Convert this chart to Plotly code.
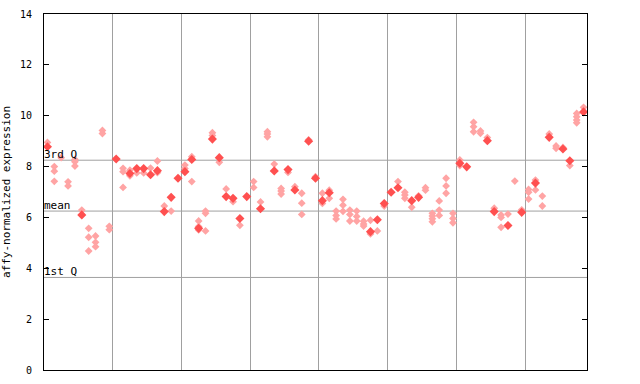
import plotly.graph_objects as go

# replicate (light, checkered) values per sample column
rep_values = [
    [8.95], [8.00, 7.82, 7.42], [8.35], [7.40, 7.24], [8.28, 8.19, 8.02],
    [6.29], [5.57, 5.22, 4.68], [5.27, 5.02, 4.85], [9.42, 9.30], [5.65, 5.52],
    [], [7.93, 7.80, 7.18], [7.86, 7.64], [7.75], [7.75],
    [7.94], [8.22, 7.76], [6.45], [6.25], [],
    [8.06, 7.92], [8.39, 7.41], [5.86, 5.64, 5.51], [6.25, 6.16, 5.47], [9.33, 9.22],
    [8.17], [7.12], [6.62], [5.69], [],
    [7.41, 7.18], [6.61], [9.37, 9.28, 9.17], [8.10], [7.14, 7.04, 6.92],
    [7.77], [7.21], [6.95, 6.56, 6.12], [9.05], [7.60],
    [6.95, 6.55], [7.07, 6.75], [6.25, 6.08, 5.94], [6.71, 6.48, 6.24], [6.29, 6.12, 5.86],
    [6.25, 6.04, 5.86], [5.85, 5.74, 5.66], [5.89, 5.35], [5.47], [6.45],
    [], [7.41], [6.99, 6.88, 6.75], [6.40], [6.85],
    [7.17, 7.07], [6.16, 6.06, 5.95, 5.83], [6.65, 6.29, 6.08], [7.54, 7.24, 6.95], [6.16, 5.96, 5.79],
    [8.26, 8.04], [], [9.74, 9.57, 9.37], [9.40, 9.31], [9.14],
    [6.36], [6.10, 6.00, 5.61], [6.13], [7.43], [6.30],
    [7.10, 6.99, 6.72], [7.47, 7.08], [6.84, 6.45], [9.28], [8.81, 8.72],
    [8.75], [8.04], [10.09, 9.96, 9.83, 9.72], [10.33],
]

# highlighted (solid) value per sample column, None where absent
solid_values = [
    8.78, None, None, None, None, 6.10, None, None, None, None,
    8.30, None, 7.73, 7.92, 7.92, 7.68, 7.84, 6.23, 6.79, 7.54,
    7.80, 8.28, 5.57, None, 9.08, 8.35, 6.82, 6.75, 5.96, 6.82,
    None, 6.34, None, 7.83, None, 7.88, 7.08, None, 9.00, 7.54,
    6.66, 6.97, None, None, None, None, None, 5.44, 5.91, 6.55,
    6.99, 7.17, None, 6.66, 6.79, None, None, None, None, None,
    8.13, 7.99, None, None, 9.02, 6.23, None, 5.68, None, 6.20,
    None, 7.35, None, 9.15, None, 8.69, 8.23, None, 10.15,
]

group_sizes = [10, 10, 10, 10, 10, 10, 10, 9]
stat_lines = {"3rd Q": 8.25, "mean": 6.25, "1st Q": 3.64}
y_ticks = [0, 2, 4, 6, 8, 10, 12, 14]

rx, ry = [], []
for i, vals in enumerate(rep_values):
    for v in vals:
        rx.append(i)
        ry.append(v)
sx = [i for i, v in enumerate(solid_values) if v is not None]
sy = [v for v in solid_values if v is not None]

boundaries = []
acc = 0
for g in group_sizes[:-1]:
    acc += g
    boundaries.append(acc - 0.5)
n = sum(group_sizes)

fig = go.Figure()
fig.add_trace(go.Scatter(x=rx, y=ry, mode="markers",
                         marker=dict(symbol="diamond", size=6, color="#ffa4a4",
                                     line=dict(width=0)),
                         showlegend=False, hoverinfo="y"))
fig.add_trace(go.Scatter(x=sx, y=sy, mode="markers",
                         marker=dict(symbol="diamond", size=7, color="#ff5050",
                                     line=dict(width=0)),
                         showlegend=False, hoverinfo="y"))

for label, val in stat_lines.items():
    fig.add_shape(type="line", xref="paper", x0=0, x1=1, yref="y", y0=val, y1=val,
                  line=dict(color="#a0a0a0", width=1), layer="below")
    fig.add_annotation(xref="paper", x=0, yref="y", y=val, text=label,
                       showarrow=False, xanchor="left", yanchor="bottom",
                       xshift=-2, yshift=-3,
                       font=dict(family="DejaVu Sans Mono", size=11, color="black"))

fig.update_layout(
    width=640, height=384,
    margin=dict(l=44, r=53, t=14, b=14, autoexpand=False),
    paper_bgcolor="white", plot_bgcolor="white",
    xaxis=dict(range=[-0.5, n - 0.5], tickvals=boundaries, showticklabels=False,
               ticks="", showgrid=True, gridcolor="#a0a0a0", gridwidth=1,
               zeroline=False, showline=True, linecolor="black", linewidth=1,
               mirror=True, automargin=False),
    yaxis=dict(range=[0, 14], tickvals=y_ticks, ticks="inside", ticklen=5,
               tickcolor="black", showgrid=False, zeroline=False,
               showline=True, linecolor="black", linewidth=1, mirror="ticks",
               ticklabelstandoff=9, automargin=False,
               tickfont=dict(family="DejaVu Sans Mono", size=10, color="black"),
               title=dict(text="affy-normalized expression", standoff=12,
                          font=dict(family="DejaVu Sans Mono", size=11, color="black"))),
)

fig.write_html("out.html")
